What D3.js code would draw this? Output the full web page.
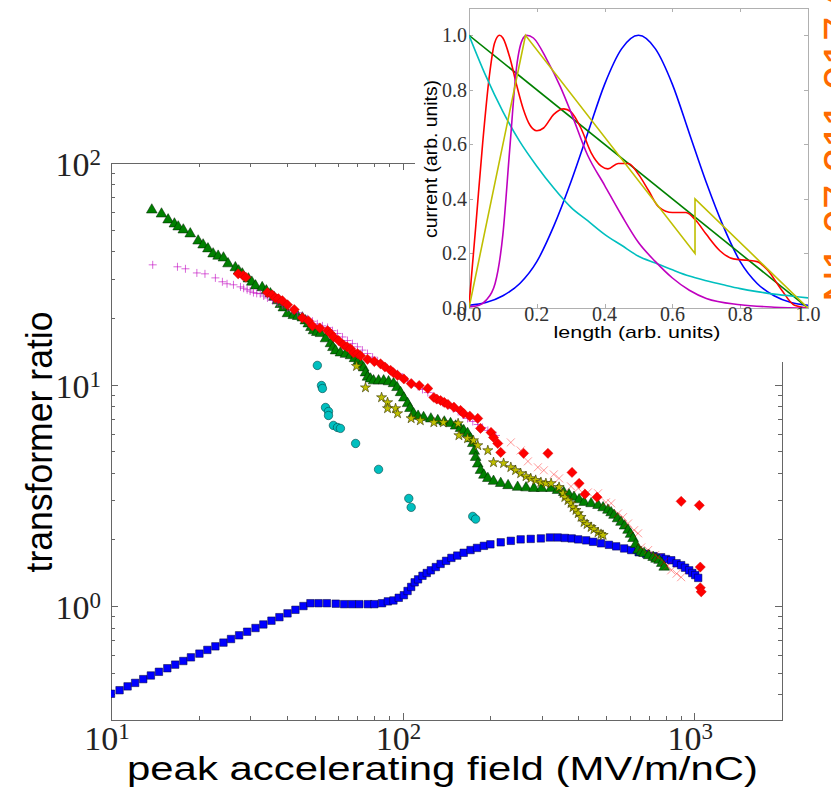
<!DOCTYPE html>
<html>
<head>
<meta charset="utf-8">
<script src="https://cdn.jsdelivr.net/npm/d3@7"></script>
<style>
  body { margin: 0; background: #fff; }
  svg { display: block; }
</style>
</head>
<body>
<div id="chart"></div>
<script>
// ---- data: [peak accelerating field (MV/m/nC), transformer ratio] ----
const blueSquares = [
  [10.0,0.402],[10.7,0.417],[11.4,0.434],[12.1,0.450],[12.9,0.468],[13.7,0.486],[14.6,0.505],
  [15.6,0.524],[16.6,0.544],[17.7,0.565],[18.8,0.587],[20.1,0.610],[21.4,0.634],[22.8,0.658],
  [24.3,0.684],[25.8,0.710],[27.5,0.738],[29.3,0.766],[31.3,0.796],[33.3,0.826],[35.5,0.859],
  [37.8,0.891],[40.3,0.927],[42.9,0.962],[45.7,1.00],[48.3,1.03],[51.5,1.03],[55,1.03],
  [59,1.025],[63,1.02],[67,1.02],[71,1.02],[76,1.02],[80,1.02],[85,1.03],[89,1.05],[93,1.06],
  [97,1.09],[101,1.12],[104,1.17],[107,1.22],[110,1.28],[113,1.32],[117,1.37],[121,1.41],
  [125,1.45],[130,1.50],[135,1.55],[141,1.60],[147,1.65],[154,1.69],[162,1.74],[171,1.79],
  [180,1.83],[190,1.87],[200,1.90],[217,1.94],[235,1.97],[254,2.00],[275,2.01],[298,2.02],
  [320,2.04],[340,2.04],[360,2.03],[380,2.02],[400,2.00],[426,1.98],[450,1.95],[479,1.92],
  [510,1.89],[540,1.86],[575,1.82],[608,1.79],[645,1.75],[684,1.72],[725,1.68],[770,1.66],
  [800,1.63],[834,1.61],[870,1.56],[902,1.53],[930,1.49],[961,1.45],[985,1.41],[1008,1.38],
  [1032,1.34]
];
const greenTriangles = [
  [13.8,61.4],[14.9,58.9],[15.7,55.4],[16.5,53.1],[17.0,51.5],[17.7,49.9],[18.7,47.9],
  [19.9,44.5],[20.7,42.7],[21.5,41.0],[22.4,38.9],[23.3,38.0],[24.3,37.3],[25.2,35.1],
  [26.7,33.7],[27.4,32.6],[28.2,31.6],[29.6,30.0],[30.4,29.0],[31.3,27.9],[33.0,27.4],
  [34.1,26.5],[35.2,25.7],[36.2,24.8],[37.2,23.9],[38.1,23.0],[39.0,22.2],[40.3,20.9],
  [42.2,20.5],[43.7,20.3],[45.3,20.0],[46.4,19.4],[47.5,18.8],[48.5,18.1],[49.5,17.5],
  [50.8,17.2],[52.3,17.0],[54.4,16.1],[56.6,15.3],[57.7,14.7],[58.9,14.2],[61.2,13.9],
  [63.7,13.7],[66.3,13.5],[68.4,13.1],[70.6,12.8],[72,12.3],[73.5,11.9],[74.6,11.3],
  [75.8,10.8],[77.6,10.6],[79.5,10.4],[82.7,10.4],[86.1,10.4],[89.5,10.3],[93.1,10.1],
  [95.7,9.7],[98.4,9.20],[101,8.7],[104,8.21],[106,7.8],[109,7.40],[113,7.2],[118,7.10],
  [125,7.0],[132,6.88],[139,6.78],[146,6.67],[152,6.5],[158,6.34],[162,6.2],[167,6.02],
  [171,5.7],[174,5.42],[176,5.0],[178,4.69],[181,4.38],[185,4.10],[190,3.9],[196,3.77],
  [205,3.66],[217,3.58],[230,3.5],[248,3.44],[265,3.42],[282,3.40],[300,3.40],[323,3.40],
  [340,3.33],[357,3.26],[372,3.18],[387,3.10],[403,3.02],[419,2.94],[443,2.9],[468,2.85],
  [487,2.78],[506,2.71],[519,2.64],[531,2.57],[546,2.48],[561,2.39],[577,2.30],[593,2.20],
  [605,2.11],[617,2.02],[630,1.9],[642,1.79],[657,1.75],[673,1.73],[698,1.69],[723,1.66],
  [740,1.63],[758,1.61],[774,1.56],[789,1.50]
];
const yellowStars = [
  [69.5,12.1],[74.6,9.69],[84.7,8.74],[88.8,8.30],[88.8,7.80],[94.6,7.80],[96.1,7.40],
  [107,7.03],[115,6.88],[128,6.74],[138,6.74],[155,6.67],[156,5.89],[167,5.71],[175,5.59],
  [181,5.31],[196,5.04],[205,4.45],[222,4.41],[235,4.23],[244,4.10],[254,3.97],[265,3.85],
  [275,3.77],[286,3.70],[298,3.62],[310,3.58],[323,3.58],[344,3.44],[355,3.23],[360,3.10],
  [369,3.00],[378,2.91],[384,2.79],[393,2.71],[400,2.62],[409,2.52],[419,2.39],[429,2.34],
  [443,2.27],[453,2.22],[468,2.15],[479,2.11],[487,2.09]
];
const cyanCircles = [
  [51.0,12.2],[52.7,9.90],[53.1,9.60],[54.4,7.88],[55.7,7.56],[55.7,7.25],[57.9,6.54],
  [59.8,6.40],[61.2,6.34],[69.0,5.42],[82.7,4.14],[105,3.06],[107,2.79],[174,2.54],[178,2.47]
];
const magentaPlus = [
  [13.9,34.7],[16.9,34.0],[18.0,33.3],[19.7,31.9],[21.0,31.6],[22.8,30.3],[24.1,29.1],
  [25.0,28.5],[26.3,28.2],[27.8,27.6],[28.5,27.2],[29.3,26.8],[30.0,26.4],[30.8,26.0],
  [31.6,25.8],[32.5,25.7],[33.4,25.1],[34.4,24.6],[35.8,24.0],[37.2,23.4],[38.7,22.8],
  [40.3,22.2],[41.9,21.6],[43.6,21.1],[45.4,20.4],[47.2,19.8],[49.1,19.3],[51.0,18.8],
  [53.1,18.4],[55.3,18.1],[57.5,17.5],[59.8,17.0],[62.2,16.4],[64.7,15.8],[67.3,15.3],
  [70.0,14.8],[72.8,14.3],[75.8,13.8],[78.9,13.3],[82.1,12.8],[85.4,12.3],[88.8,11.9],
  [92.4,11.5],[96.1,11.2],[100,10.8],[104,10.4],[108,10.1],[113,9.8],[117,9.5],[122,9.2],
  [127,8.87],[132,8.56],[137,8.30],[143,8.04],[149,7.80],[155,7.56],[161,7.29],[167,7.03],
  [174,6.81],[181,6.60],[188,6.40],[196,6.21],[202,6.05],[209,5.89]
];
const redDiamonds = [
  [27.3,31.6],[28.4,31.0],[29.0,30.5],[34.4,26.0],[35.7,25.4],[36.6,24.6],[37.5,24.4],
  [38.7,23.9],[40.3,22.9],[42.5,21.8],[45.3,20.0],[47.5,19.4],[49.1,18.4],[52,18.0],
  [55.3,17.5],[56.6,17.0],[58,16.4],[60.3,15.8],[62.7,15.1],[64.5,14.8],[66.3,14.5],
  [67.9,13.9],[70,13.8],[71.7,13.5],[75.8,13.0],[80,12.7],[84.0,12.4],[87,12.0],[90.9,11.6],
  [93,11.3],[96.1,11.0],[101,10.6],[107,10.1],[114,9.9],[122,9.60],[128,8.74],[131,8.6],
  [135,8.47],[139,8.3],[143,8.13],[150,7.9],[158,7.64],[162,7.40],[170,7.2],[181,7.03],
  [185,6.34],[201,6.08],[205,5.77],[212,5.42],[217,4.94],[260,4.89],[315,4.89],[381,4.01],
  [403,3.58],[422,3.20],[464,3.10],[902,2.97],[1041,2.85],[1049,1.50],[1049,1.21],[1057,1.16]
];
const pinkCrosses = [
  [235,5.48],[254,5.04],[269,4.50],[291,4.23],[305,4.10],[330,3.93],[344,3.77],[378,3.47],
  [400,3.40],[432,3.26],[468,3.23],[498,2.94],[519,2.91],[548,2.62],[570,2.52],[593,2.36],
  [622,2.20],[642,2.13],[658,1.84],[695,1.79],[735,1.70],[752,1.66],[789,1.58],[810,1.52],
  [834,1.45],[870,1.40],[902,1.35]
];

// ---- inset data: [length, current] (arb. units) ----
const insetBlue = [
  [0,0.01],[0.05,0.02],[0.1,0.045],[0.15,0.09],[0.2,0.17],[0.25,0.3],[0.3,0.46],[0.35,0.64],
  [0.4,0.82],[0.45,0.95],[0.5,1.0],[0.55,0.95],[0.6,0.82],[0.65,0.64],[0.7,0.46],[0.75,0.3],
  [0.8,0.17],[0.85,0.09],[0.9,0.045],[0.95,0.02],[1.0,0.01]
];
const insetGreen = [[0,1.0],[1.0,0]];
const insetRed = [
  [0,0.01],[0.02,0.3],[0.04,0.6],[0.06,0.85],[0.075,0.97],[0.09,1.0],[0.1,0.99],[0.12,0.92],
  [0.14,0.82],[0.16,0.73],[0.18,0.67],[0.2,0.65],[0.22,0.66],[0.25,0.71],[0.28,0.73],
  [0.3,0.72],[0.33,0.66],[0.36,0.57],[0.39,0.52],[0.41,0.51],[0.44,0.53],[0.47,0.53],
  [0.5,0.49],[0.53,0.43],[0.56,0.37],[0.6,0.35],[0.64,0.35],[0.67,0.32],[0.7,0.27],
  [0.74,0.21],[0.78,0.18],[0.82,0.175],[0.85,0.17],[0.88,0.14],[0.92,0.07],[0.96,0.01],[1.0,0]
];
const insetCyan = [
  [0,1.0],[0.05,0.85],[0.1,0.72],[0.15,0.61],[0.2,0.52],[0.25,0.44],[0.3,0.37],[0.35,0.32],
  [0.4,0.27],[0.45,0.23],[0.5,0.19],[0.55,0.165],[0.6,0.14],[0.65,0.117],[0.7,0.1],
  [0.75,0.085],[0.8,0.071],[0.85,0.06],[0.9,0.051],[0.95,0.044],[1.0,0.037]
];
const insetMagenta = [
  [0,0.004],[0.03,0.01],[0.05,0.028],[0.077,0.09],[0.1,0.27],[0.12,0.58],[0.14,0.88],
  [0.16,0.99],[0.17,1.0],[0.19,0.99],[0.23,0.91],[0.27,0.81],[0.3,0.72],[0.35,0.56],
  [0.4,0.45],[0.45,0.34],[0.5,0.24],[0.55,0.17],[0.6,0.11],[0.65,0.065],[0.7,0.035],
  [0.8,0.012],[0.9,0.003],[1.0,0]
];
const insetYellow = [[0,0],[0.1667,1.0],[0.6667,0.2],[0.6667,0.4],[1.0,0]];

const xMajor = [10, 100, 1000];
const yMajor = [1, 10, 100];
const insetTicks = [0, 0.2, 0.4, 0.6, 0.8, 1.0];
const insetTickLabels = ['0.0', '0.2', '0.4', '0.6', '0.8', '1.0'];

// ---- layout ----
const W = 831, H = 788;
const plot = { left: 111, right: 782, top: 163, bottom: 720 };
const inset = { left: 469, right: 808, top: 8, bottom: 308 };
const serif = '"Liberation Serif", "Times New Roman", serif';
const sans = '"Liberation Sans", Arial, Helvetica, sans-serif';

const xScale = d3.scaleLog().domain([10, 2000]).range([plot.left, plot.right]);
const yScale = d3.scaleLog().domain([0.306, 100]).range([plot.bottom, plot.top]);
const ix = d3.scaleLinear().domain([0, 1]).range([inset.left, inset.right]);
const iy = d3.scaleLinear().domain([0, 1.1]).range([inset.bottom, inset.top]);

const $svg = d3.select('#chart').append('svg')
  .attr('width', W).attr('height', H)
  .style('background', '#fff');

$svg.append('clipPath').attr('id', 'plotclip')
  .append('rect')
  .attr('x', plot.left).attr('y', plot.top)
  .attr('width', plot.right - plot.left).attr('height', plot.bottom - plot.top);

$svg.append('clipPath').attr('id', 'insetclip')
  .append('rect')
  .attr('x', inset.left).attr('y', inset.top)
  .attr('width', inset.right - inset.left).attr('height', inset.bottom - inset.top);

const isMajor = v => Math.abs(Math.log10(v) - Math.round(Math.log10(v))) < 1e-6;

// ---- main frame + ticks ----
const $axes = $svg.append('g').attr('stroke', '#666').attr('stroke-width', 1);

xScale.ticks().forEach(v => {
  const x = Math.round(xScale(v)) + 0.5;
  const len = isMajor(v) ? 7 : 4;
  $axes.append('line').attr('x1', x).attr('x2', x).attr('y1', plot.bottom).attr('y2', plot.bottom - len);
  $axes.append('line').attr('x1', x).attr('x2', x).attr('y1', plot.top).attr('y2', plot.top + len);
});
yScale.ticks().forEach(v => {
  const y = Math.round(yScale(v)) + 0.5;
  const len = isMajor(v) ? 7 : 4;
  $axes.append('line').attr('x1', plot.left).attr('x2', plot.left + len).attr('y1', y).attr('y2', y);
  $axes.append('line').attr('x1', plot.right).attr('x2', plot.right - len).attr('y1', y).attr('y2', y);
});
$axes.append('rect')
  .attr('x', plot.left + 0.5).attr('y', plot.top + 0.5)
  .attr('width', plot.right - plot.left).attr('height', plot.bottom - plot.top)
  .attr('fill', 'none');

// tick labels "10^n"
function powLabel(g, v) {
  g.append('tspan').text('10');
  g.append('tspan').attr('dy', -11).attr('font-size', 23).text(Math.round(Math.log10(v)));
}
xMajor.forEach(v => {
  const t = $svg.append('text')
    .attr('x', xScale(v) - 4).attr('y', 750)
    .attr('text-anchor', 'middle')
    .attr('font-family', serif).attr('font-size', 34).attr('fill', '#222');
  powLabel(t, v);
});
yMajor.forEach(v => {
  const t = $svg.append('text')
    .attr('x', 101).attr('y', yScale(v) + 13)
    .attr('text-anchor', 'end')
    .attr('font-family', serif).attr('font-size', 34).attr('fill', '#222');
  powLabel(t, v);
});

// axis titles
$svg.append('text')
  .attr('x', 127).attr('y', 780)
  .attr('font-family', sans).attr('font-size', 33)
  .attr('textLength', 631).attr('lengthAdjust', 'spacingAndGlyphs')
  .text('peak accelerating field (MV/m/nC)');
$svg.append('text')
  .attr('transform', 'translate(52,442) rotate(-90)')
  .attr('text-anchor', 'middle')
  .attr('font-family', sans).attr('font-size', 36)
  .attr('textLength', 261).attr('lengthAdjust', 'spacingAndGlyphs')
  .text('transformer ratio');

// ---- scatter series ----
const $marks = $svg.append('g').attr('clip-path', 'url(#plotclip)');

const squarePath = d3.symbol().type(d3.symbolSquare).size(56)();
const trianglePath = d3.symbol().type(d3.symbolTriangle).size(50)();
const diamondPath = d3.symbol().type(d3.symbolSquare).size(52)();
const starPath = d3.symbol().type(d3.symbolStar).size(32)();
const circlePath = d3.symbol().type(d3.symbolCircle).size(56)();
const plusPath = 'M-4,0H4M0,-4V4';
const crossPath = 'M-4,-4L4,4M-4,4L4,-4';

function drawSeries(data, path, style, rotate = 0) {
  $marks.append('g').selectAll('path')
    .data(data)
    .enter()
    .append('path')
    .attr('d', path)
    .attr('transform', d => `translate(${xScale(d[0])},${yScale(d[1])})` + (rotate ? ` rotate(${rotate})` : ''))
    .attr('fill', style.fill || 'none')
    .attr('stroke', style.stroke || 'none')
    .attr('stroke-width', style.sw || 0.5)
    .attr('opacity', style.opacity || 1);
}

drawSeries(blueSquares, squarePath, { fill: '#0000ff', stroke: '#000033', sw: 0.5 });
drawSeries(cyanCircles, circlePath, { fill: '#00bfbf', stroke: '#004444', sw: 0.6 });
drawSeries(greenTriangles, trianglePath, { fill: '#008000', stroke: '#002000', sw: 0.5 });
drawSeries(yellowStars, starPath, { fill: '#bfbf00', stroke: '#333300', sw: 0.6 });
drawSeries(magentaPlus, plusPath, { stroke: '#bf00bf', sw: 1, opacity: 0.6 });
drawSeries(redDiamonds, diamondPath, { fill: '#ff0000', stroke: '#cc0000', sw: 0.4 }, 45);
drawSeries(pinkCrosses, crossPath, { stroke: '#ff0000', sw: 1, opacity: 0.4 });

// ---- inset (white backing of the pasted panel) ----
$svg.append('rect')
  .attr('x', 415).attr('y', 0).attr('width', W - 415).attr('height', 362)
  .attr('fill', '#fff');

const $inset = $svg.append('g');
$inset.append('rect')
  .attr('x', inset.left + 0.5).attr('y', inset.top + 0.5)
  .attr('width', inset.right - inset.left).attr('height', inset.bottom - inset.top)
  .attr('fill', '#fff').attr('stroke', '#b0b0b0').attr('stroke-width', 1);

insetTicks.forEach((v, i) => {
  const x = Math.round(ix(v)) + 0.5;
  const y = Math.round(iy(v)) + 0.5;
  $inset.append('line').attr('x1', x).attr('x2', x).attr('y1', inset.bottom).attr('y2', inset.bottom - 4).attr('stroke', '#b0b0b0');
  $inset.append('line').attr('x1', x).attr('x2', x).attr('y1', inset.top).attr('y2', inset.top + 4).attr('stroke', '#b0b0b0');
  $inset.append('line').attr('x1', inset.left).attr('x2', inset.left + 4).attr('y1', y).attr('y2', y).attr('stroke', '#b0b0b0');
  $inset.append('line').attr('x1', inset.right).attr('x2', inset.right - 4).attr('y1', y).attr('y2', y).attr('stroke', '#b0b0b0');
});

const $curves = $inset.append('g').attr('clip-path', 'url(#insetclip)').attr('fill', 'none').attr('stroke-width', 1.6);
const smooth = d3.line().x(d => ix(d[0])).y(d => iy(d[1])).curve(d3.curveMonotoneX);
const straight = d3.line().x(d => ix(d[0])).y(d => iy(d[1]));

$curves.append('path').attr('d', smooth(insetBlue)).attr('stroke', '#0000ff');
$curves.append('path').attr('d', straight(insetGreen)).attr('stroke', '#008000');
$curves.append('path').attr('d', smooth(insetRed)).attr('stroke', '#ff0000');
$curves.append('path').attr('d', smooth(insetCyan)).attr('stroke', '#00bfbf');
$curves.append('path').attr('d', smooth(insetMagenta)).attr('stroke', '#bf00bf');
$curves.append('path').attr('d', straight(insetYellow)).attr('stroke', '#bfbf00');

insetTicks.forEach((v, i) => {
  $inset.append('text')
    .attr('x', 467).attr('y', iy(v) + 7)
    .attr('text-anchor', 'end')
    .attr('font-family', serif).attr('font-size', 20).attr('fill', '#333')
    .text(insetTickLabels[i]);
  $inset.append('text')
    .attr('x', ix(v)).attr('y', 321)
    .attr('text-anchor', 'middle')
    .attr('font-family', serif).attr('font-size', 20).attr('fill', '#333')
    .text(insetTickLabels[i]);
});

$inset.append('text')
  .attr('x', 637).attr('y', 338)
  .attr('text-anchor', 'middle')
  .attr('font-family', sans).attr('font-size', 17)
  .attr('textLength', 167).attr('lengthAdjust', 'spacingAndGlyphs')
  .text('length (arb. units)');
$inset.append('text')
  .attr('transform', 'translate(437,159) rotate(-90)')
  .attr('text-anchor', 'middle')
  .attr('font-family', sans).attr('font-size', 19)
  .attr('textLength', 158).attr('lengthAdjust', 'spacingAndGlyphs')
  .text('current (arb. units)');

// clipped orange side stamp at the right edge
$svg.append('text')
  .attr('transform', 'translate(855,302) rotate(-90)')
  .attr('font-family', sans).attr('font-size', 44).attr('fill', '#ff6a00')
  .text('N1 07 211 017 2');
</script>
</body>
</html>
